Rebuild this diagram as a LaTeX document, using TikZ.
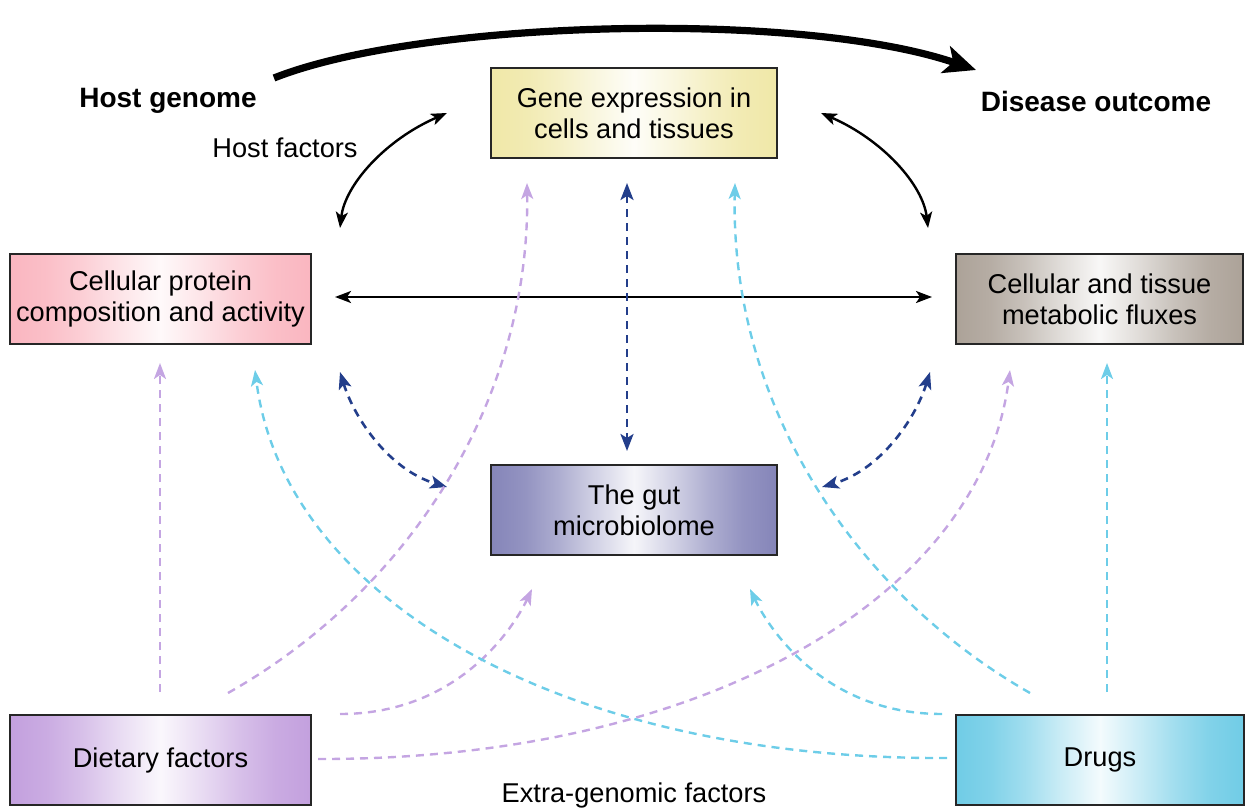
\documentclass[tikz,border=0pt]{standalone}
\usepackage{fontspec}
\setmainfont{Liberation Sans}
\usetikzlibrary{arrows.meta}
\definecolor{lilac}{RGB}{196,165,226}
\definecolor{cyanl}{RGB}{109,205,232}
\definecolor{navy}{RGB}{35,62,139}
\definecolor{cyel}{RGB}{240,232,168}
\definecolor{cpink}{RGB}{250,182,192}
\definecolor{cgrey}{RGB}{172,162,152}
\definecolor{cgut}{RGB}{133,133,185}
\definecolor{cdiet}{RGB}{195,160,222}
\definecolor{cdrug}{RGB}{112,204,230}
\newcommand\mkshade[2]{\pgfdeclarehorizontalshading{#1}{100bp}{color(0bp)=(#2); color(25bp)=(#2); color(31bp)=(#2!88!white); color(37bp)=(#2!66!white); color(43bp)=(#2!38!white); color(50bp)=(#2!8!white); color(57bp)=(#2!38!white); color(63bp)=(#2!66!white); color(69bp)=(#2!88!white); color(75bp)=(#2); color(100bp)=(#2)}}
\mkshade{shyel}{cyel}
\mkshade{shpink}{cpink}
\mkshade{shgrey}{cgrey}
\mkshade{shgut}{cgut}
\mkshade{shdiet}{cdiet}
\mkshade{shdrug}{cdrug}
\begin{document}
\begin{tikzpicture}[x=0.5pt,y=-0.5pt,
  box/.style={draw=black!85,line width=0.6pt,inner sep=0pt,minimum height=45pt,
    align=center,font=\fontsize{13.6}{15.5}\selectfont,shading=#1},
  lbl/.style={font=\fontsize{13.6}{15.5}\selectfont,inner sep=0pt},
  blbl/.style={font=\bfseries\fontsize{14}{16}\selectfont,inner sep=0pt},
  blk/.style={line width=1.2pt,{Stealth[length=8pt,width=6pt,inset=2pt]}-{Stealth[length=8pt,width=6pt,inset=2pt]}},
  nav/.style={navy,line width=1.3pt,dash pattern=on 4pt off 3pt,{Stealth[length=8.5pt,width=6.5pt,inset=2pt]}-{Stealth[length=8.5pt,width=6.5pt,inset=2pt]}},
  lil/.style={lilac,line width=1.2pt,dash pattern=on 4pt off 3pt,-{Stealth[length=8pt,width=6pt,inset=2pt]}},
  cya/.style={cyanl,line width=1.2pt,dash pattern=on 4pt off 3pt,-{Stealth[length=8pt,width=6pt,inset=2pt]}}]
\useasboundingbox (0,0) rectangle (1245,807);
% boxes
\node[box=shyel,minimum width=143pt] (gene) at (634,113) {Gene expression in\\cells and tissues};
\node[box=shpink,minimum width=150.5pt] (prot) at (160.5,299) {Cellular protein\\composition and activity};
\node[box=shgrey,minimum width=143.5pt] (meta) at (1099.5,299) {Cellular and tissue\\metabolic fluxes};
\node[box=shgut,minimum width=143pt] (gut) at (634,510) {The gut\\microbiolome};
\node[box=shdiet,minimum width=150.5pt] (diet) at (160.5,760) {Dietary factors};
\node[box=shdrug,minimum width=144pt] (drug) at (1100,760) {Drugs};
% labels
\node[blbl] (hg) at (168,101) {Host genome};
\node[blbl] (do) at (1096,101) {Disease outcome};
\node[lbl] (hf) at (285,148) {Host factors};
\node[lbl] (eg) at (634,795) {Extra-genomic factors};
% coordinates
\coordinate (hgA) at (274,78); \coordinate (doA) at (976,70);
\coordinate (gL) at (447,113); \coordinate (pT) at (340,228);
\coordinate (gR) at (821,113); \coordinate (mT) at (928,228);
\coordinate (pE) at (335,297); \coordinate (mW) at (932,297);
\coordinate (gB) at (627,183); \coordinate (uT) at (627,451);
\coordinate (pB) at (340,372); \coordinate (uL) at (447,487);
\coordinate (mB) at (930,372); \coordinate (uR) at (822,487);
\coordinate (d1) at (160,692); \coordinate (p1) at (160,363);
\coordinate (d2) at (228,693); \coordinate (g1) at (527,183);
\coordinate (d3) at (340,714); \coordinate (u1) at (532,589);
\coordinate (d4) at (318,759); \coordinate (m1) at (1010,370);
\coordinate (r1) at (1107,692); \coordinate (m2) at (1107,363);
\coordinate (r2) at (1030,693); \coordinate (g2) at (735,183);
\coordinate (r3) at (942,714); \coordinate (u2) at (750,589);
\coordinate (r4) at (947,758); \coordinate (p2) at (255,370);
% big arrow
\draw[line width=3.6pt,-{Stealth[length=16pt,width=14pt,inset=4pt]}] (hgA) .. controls (420,20) and (800,10) .. (doA);
% black arrows
\draw[blk] (pT) .. controls (345,185) and (385,140) .. (gL);
\draw[blk] (mT) .. controls (923,185) and (883,140) .. (gR);
\draw[blk] (pE) -- (mW);
% navy dashed
\draw[nav] (gB) -- (uT);
\draw[nav] (pB) .. controls (355,420) and (390,470) .. (uL);
\draw[nav] (mB) .. controls (915,420) and (880,470) .. (uR);
% lilac
\draw[lil] (d1) -- (p1);
\draw[lil] (d2) .. controls (410,590) and (530,400) .. (g1);
\draw[lil] (d3) .. controls (460,714) and (515,625) .. (u1);
\draw[lil] (d4) .. controls (700,760) and (980,600) .. (m1);
% cyan
\draw[cya] (r1) -- (m2);
\draw[cya] (r2) .. controls (850,590) and (730,400) .. (g2);
\draw[cya] (r3) .. controls (822,714) and (767,625) .. (u2);
\draw[cya] (r4) .. controls (564,760) and (284,600) .. (p2);
\end{tikzpicture}
\end{document}
